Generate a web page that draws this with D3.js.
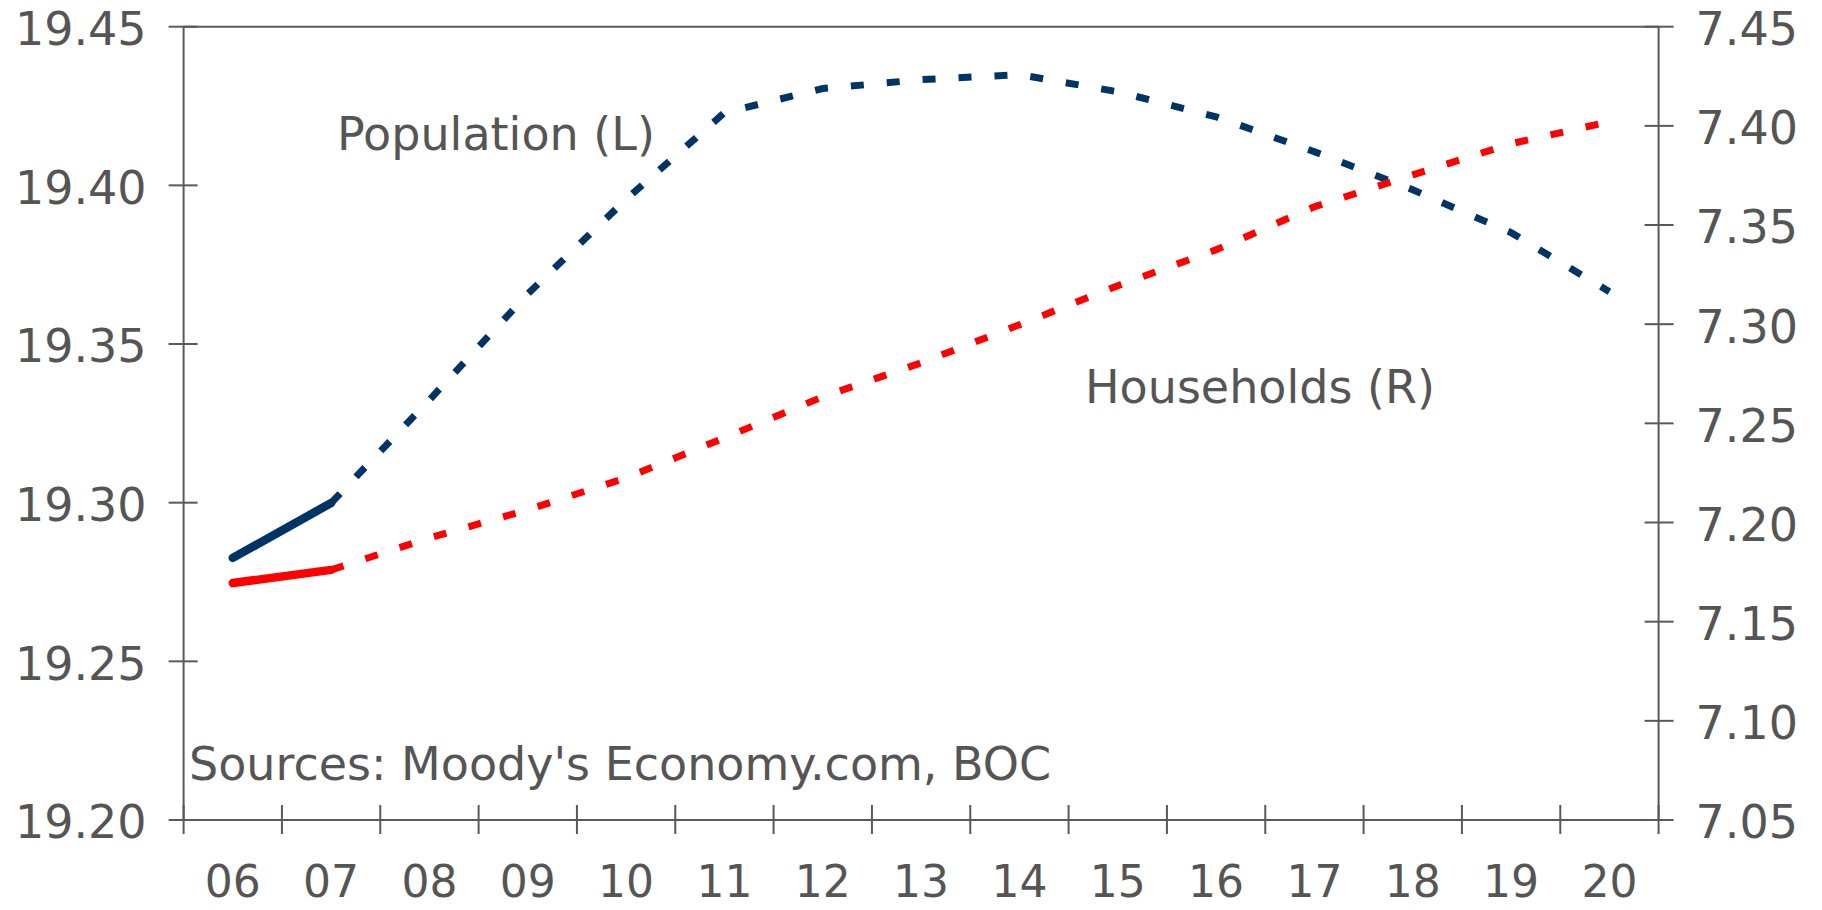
<!DOCTYPE html>
<html>
<head>
<meta charset="utf-8">
<script src="https://cdn.jsdelivr.net/npm/d3@7"></script>
<style>
  html, body { margin: 0; padding: 0; background: #fff; }
  svg text { font-family: "DejaVu Sans", Verdana, sans-serif; fill: #555; }
</style>
</head>
<body>
<div id="chart"></div>
<script>
// Canada population vs households, history (solid) and forecast (dashed)
const years = ['06', '07', '08', '09', '10', '11', '12', '13', '14', '15', '16', '17', '18', '19', '20'];
const population = [19.2826, 19.2999, 19.3324, 19.3658, 19.3956, 19.4229, 19.4305, 19.4333, 19.4349,
                     19.4295, 19.4216, 19.4106, 19.3986, 19.3851, 19.3665];
const households = [7.1695, 7.1761, 7.1922, 7.2064, 7.2225, 7.2427, 7.2634, 7.2805, 7.2997,
                    7.3194, 7.3375, 7.3592, 7.3753, 7.3910, 7.4021];
const lastActual = 1; // index of '07', end of the solid part
const leftTicks = [19.20, 19.25, 19.30, 19.35, 19.40, 19.45];
const rightTicks = [7.05, 7.10, 7.15, 7.20, 7.25, 7.30, 7.35, 7.40, 7.45];

const W = 1822, H = 910;
const plot = { left: 183.6, right: 1658.6, top: 26.7, bottom: 820 };
const axisColor = '#595959';

const svg = d3.select('#chart').append('svg')
    .attr('width', W)
    .attr('height', H);

// scales
const xEdge = d3.scaleLinear().domain([0, years.length]).range([plot.left, plot.right]);
const x = i => xEdge(i + 0.5);
const yL = d3.scaleLinear().domain([19.20, 19.45]).range([plot.bottom, plot.top]);
const yR = d3.scaleLinear().domain([7.05, 7.45]).range([plot.bottom, plot.top]);

// frame
const frame = svg.append('g')
    .style('stroke', axisColor)
    .style('stroke-width', 2);
frame.append('line')
    .attr('x1', plot.left).attr('x2', plot.right)
    .attr('y1', plot.top).attr('y2', plot.top);
frame.append('line')
    .attr('x1', plot.left).attr('x2', plot.right)
    .attr('y1', plot.bottom).attr('y2', plot.bottom);
frame.append('line')
    .attr('x1', plot.left).attr('x2', plot.left)
    .attr('y1', plot.top).attr('y2', plot.bottom);
frame.append('line')
    .attr('x1', plot.right).attr('x2', plot.right)
    .attr('y1', plot.top).attr('y2', plot.bottom);

// left ticks and labels
frame.selectAll('.tl')
    .data(leftTicks)
    .enter().append('line')
    .attr('x1', plot.left - 15).attr('x2', plot.left + 14)
    .attr('y1', d => yL(d)).attr('y2', d => yL(d));

svg.selectAll('.ll')
    .data(leftTicks)
    .enter().append('text')
    .attr('x', plot.left - 37)
    .attr('y', d => yL(d))
    .attr('dy', '0.4em')
    .attr('text-anchor', 'end')
    .style('font-size', '46px')
    .text(d => d.toFixed(2));

// right ticks and labels
frame.selectAll('.tr')
    .data(rightTicks)
    .enter().append('line')
    .attr('x1', plot.right - 14).attr('x2', plot.right + 15)
    .attr('y1', d => yR(d)).attr('y2', d => yR(d));

svg.selectAll('.rl')
    .data(rightTicks)
    .enter().append('text')
    .attr('x', plot.right + 37)
    .attr('y', d => yR(d))
    .attr('dy', '0.4em')
    .attr('text-anchor', 'start')
    .style('font-size', '46px')
    .text(d => d.toFixed(2));

// bottom ticks (category edges) and labels (centers)
frame.selectAll('.tb')
    .data(d3.range(years.length + 1))
    .enter().append('line')
    .attr('x1', d => xEdge(d)).attr('x2', d => xEdge(d))
    .attr('y1', plot.bottom - 15).attr('y2', plot.bottom + 14);

svg.selectAll('.bl')
    .data(years)
    .enter().append('text')
    .attr('x', (d, i) => x(i))
    .attr('y', 897)
    .attr('text-anchor', 'middle')
    .style('font-size', '44px')
    .text(d => d);

// lines
const series = [
    { values: population, y: yL, color: '#003366' },
    { values: households, y: yR, color: '#FF0000' }
];

series.forEach(s => {
    const pts = s.values.map((v, i) => [x(i), s.y(v)]);
    const line = d3.line();

    svg.append('path')
        .attr('d', line(pts.slice(lastActual)))
        .attr('fill', 'none')
        .attr('stroke', s.color)
        .attr('stroke-width', 7)
        .attr('stroke-dasharray', '13,23');

    svg.append('path')
        .attr('d', line(pts.slice(0, lastActual + 1)))
        .attr('fill', 'none')
        .attr('stroke', s.color)
        .attr('stroke-width', 8.5)
        .attr('stroke-linecap', 'round');
});

// annotations
svg.append('text')
    .attr('x', 337).attr('y', 150)
    .style('font-size', '46px')
    .text('Population (L)');

svg.append('text')
    .attr('x', 1085).attr('y', 403)
    .style('font-size', '46px')
    .text('Households (R)');

svg.append('text')
    .attr('x', 189).attr('y', 780)
    .style('font-size', '46px')
    .text("Sources: Moody's Economy.com, BOC");
</script>
</body>
</html>
